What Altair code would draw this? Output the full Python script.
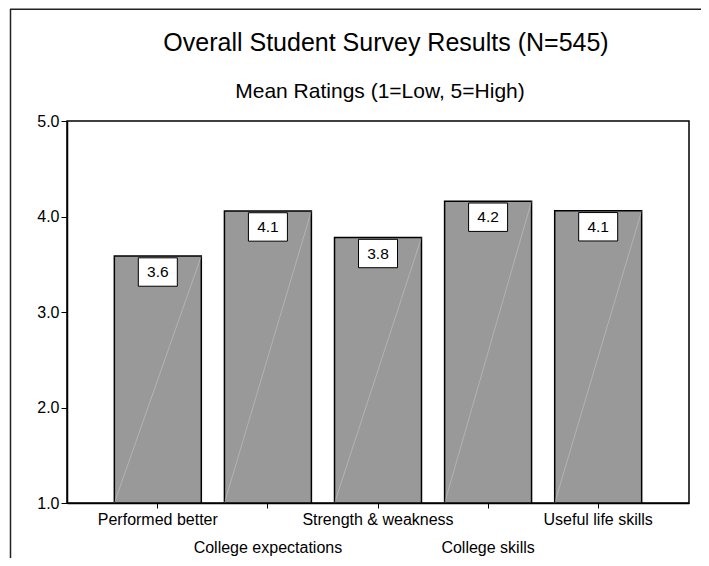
import altair as alt
import pandas as pd

FONT = "Liberation Sans"

categories = ["Performed better", "College expectations", "Strength & weakness",
              "College skills", "Useful life skills"]
means = [3.586, 4.058, 3.78, 4.16, 4.06]
labels = ["3.6", "4.1", "3.8", "4.2", "4.1"]
y_ticks = [1, 2, 3, 4, 5]
title_text = "Overall Student Survey Results (N=545)"
subtitle_text = "Mean Ratings (1=Low, 5=High)"

W, H = 622, 382

df = pd.DataFrame({"category": categories, "mean": means, "label": labels})
base = alt.Chart(df)

xscale = alt.Scale(paddingInner=0.21, paddingOuter=0.43)
xaxis = alt.Axis(labels=False, title=None, ticks=True, tickSize=5, tickColor="black",
                 domainColor="black", domainWidth=1.5, grid=False)
x = alt.X("category:N", sort=categories, scale=xscale, axis=xaxis)
y = alt.Y("mean:Q", scale=alt.Scale(domain=[1, 5], nice=False, zero=False),
          axis=alt.Axis(values=y_ticks, format=".1f", title=None, grid=False,
                        labelFontSize=16, labelFont=FONT, labelColor="black",
                        tickColor="black", tickSize=6, labelPadding=2,
                        domainColor="black", domainWidth=1.5))

bars = base.mark_bar(fill="#999999", stroke="black", strokeWidth=1.5).encode(
    x=x, y=y, y2=alt.datum(1))

diag = base.mark_rule(color="white", opacity=0.25, strokeWidth=1).encode(
    x=alt.X("category:N", sort=categories, scale=xscale, axis=xaxis, bandPosition=1),
    x2=alt.X2("category:N", bandPosition=0),
    y=y,
    y2=alt.datum(1))

box = base.mark_point(shape="M-1,-0.728L1,-0.728L1,0.728L-1,0.728Z", filled=True,
                      fill="white", stroke="black", strokeWidth=1, size=1521,
                      opacity=1, fillOpacity=1, strokeOpacity=1, yOffset=16).encode(x=x, y=y)

vals = base.mark_text(fontSize=15.5, font=FONT, color="black", baseline="middle",
                      yOffset=16).encode(x=x, y=y, text="label:N")

xl_top = base.transform_window(idx="row_number()").transform_filter(
    "datum.idx % 2 == 1").mark_text(fontSize=16, font=FONT, color="black",
                                    baseline="alphabetic").encode(
    x=x, y=alt.value(H + 22), text="category:N")
xl_bot = base.transform_window(idx="row_number()").transform_filter(
    "datum.idx % 2 == 0").mark_text(fontSize=16, font=FONT, color="black",
                                    baseline="alphabetic").encode(
    x=x, y=alt.value(H + 50), text="category:N")

one = pd.DataFrame({"t": [subtitle_text], "h": [title_text]})
ttl = alt.Chart(one).mark_text(fontSize=25, font=FONT, color="black",
                               baseline="alphabetic").encode(
    x=alt.value(W / 2 + 8), y=alt.value(-70), text="h:N")
sub = alt.Chart(one).mark_text(fontSize=21, font=FONT, color="black",
                               baseline="alphabetic").encode(
    x=alt.value(W / 2 + 2), y=alt.value(-23.5), text="t:N")

vline = alt.Chart(one).mark_rule(color="#222222", strokeWidth=1.5).encode(
    x=alt.value(-56.5), y=alt.value(-112), y2=alt.value(H + 70))
hline = alt.Chart(one).mark_rule(color="#222222", strokeWidth=1.5).encode(
    x=alt.value(-57), x2=alt.value(W + 12), y=alt.value(-111.8))

chart = alt.layer(bars, diag, box, vals, xl_top, xl_bot, ttl, sub, vline, hline).properties(
    width=W, height=H,
    padding={"left": 59, "top": 113, "right": 12, "bottom": 55},
    autosize=alt.AutoSizeParams(type="none"),
).configure_view(stroke="black", strokeWidth=1.5)

chart.save("out.html", embed_options={"renderer": "svg", "actions": False})
